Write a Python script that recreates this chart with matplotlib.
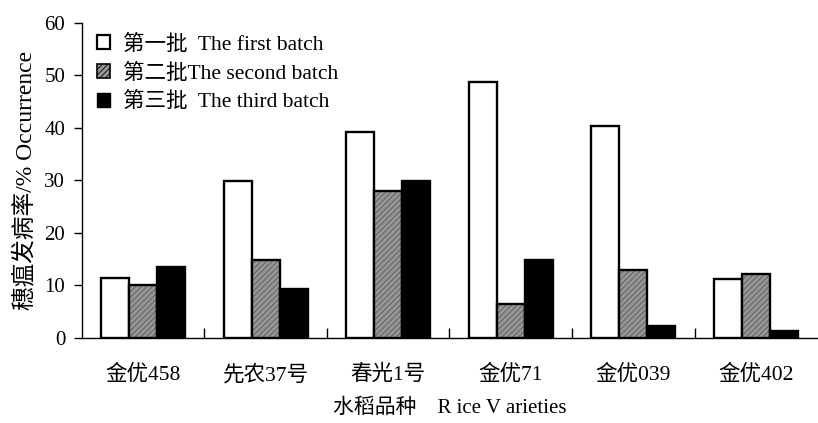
"""Rice blast occurrence by variety for three batches."""

import matplotlib

matplotlib.use("Agg")
import matplotlib.pyplot as plt
import numpy as np
from matplotlib.patches import Patch
from matplotlib.ticker import FixedLocator

varieties = ["金优458", "先农37号", "春光1号", "金优71", "金优039", "金优402"]
batch_names = [
    "第一批  The first batch",
    "第二批The second batch",
    "第三批  The third batch",
]
first_batch = [11.4, 29.8, 39.2, 48.8, 40.3, 11.3]
second_batch = [10.0, 14.9, 28.0, 6.4, 12.9, 12.2]
third_batch = [13.5, 9.3, 29.8, 14.9, 2.2, 1.4]

plt.rcParams["font.family"] = ["Liberation Serif", "Noto Sans CJK SC"]
plt.rcParams["hatch.linewidth"] = 0.6

fig = plt.figure(figsize=(8.18, 4.23), dpi=100)
ax = fig.add_axes([0.100, 0.201, 0.899, 0.745])

x = np.arange(len(varieties))
w = 0.228

ax.bar(x - w, first_batch, w, color="white", edgecolor="black", linewidth=1.7)
# gray bars: hatched fill first, black outline on top
ax.bar(x, second_batch, w, color="#969696", edgecolor="#5a5a5a", hatch="//////", linewidth=0)
ax.bar(x, second_batch, w, fill=False, edgecolor="black", linewidth=1.7)
ax.bar(x + w, third_batch, w, color="black", edgecolor="black", linewidth=1.7)

ax.set_xlim(-0.5, len(varieties) - 0.5)
ax.set_ylim(0, 60)
ax.set_yticks(range(0, 61, 10))
ax.set_xticks(x)
ax.set_xticklabels(varieties, fontsize=15.5)
ax.xaxis.set_minor_locator(FixedLocator(x[:-1] + 0.5))
ax.tick_params(axis="x", which="major", length=0, pad=19)
ax.tick_params(axis="x", which="minor", direction="in", length=7, width=1)
ax.tick_params(axis="y", direction="out", length=6, width=1, labelsize=15, pad=6)

ax.spines["top"].set_visible(False)
ax.spines["right"].set_visible(False)
ax.spines["left"].set_linewidth(1)
ax.spines["bottom"].set_linewidth(1)

ax.set_ylabel("穗瘟发病率/% Occurrence", fontsize=17, labelpad=6)
ax.set_xlabel("水稻品种    R ice V arieties", fontsize=15, labelpad=10)

# legend with the same patch look as the bars
handles = [
    Patch(facecolor="white", edgecolor="black", linewidth=1.6),
    Patch(facecolor="#969696", edgecolor="black", hatch="//////", linewidth=1.2),
    Patch(facecolor="black", edgecolor="black"),
]
ax.legend(
    handles,
    batch_names,
    loc="upper left",
    bbox_to_anchor=(0.0, 1.01),
    frameon=False,
    fontsize=15.5,
    handlelength=0.6,
    handleheight=0.6,
    handletextpad=0.6,
    labelspacing=0.4,
    borderaxespad=0.4,
    borderpad=0.3,
)

fig.savefig("out.png", dpi=100)
